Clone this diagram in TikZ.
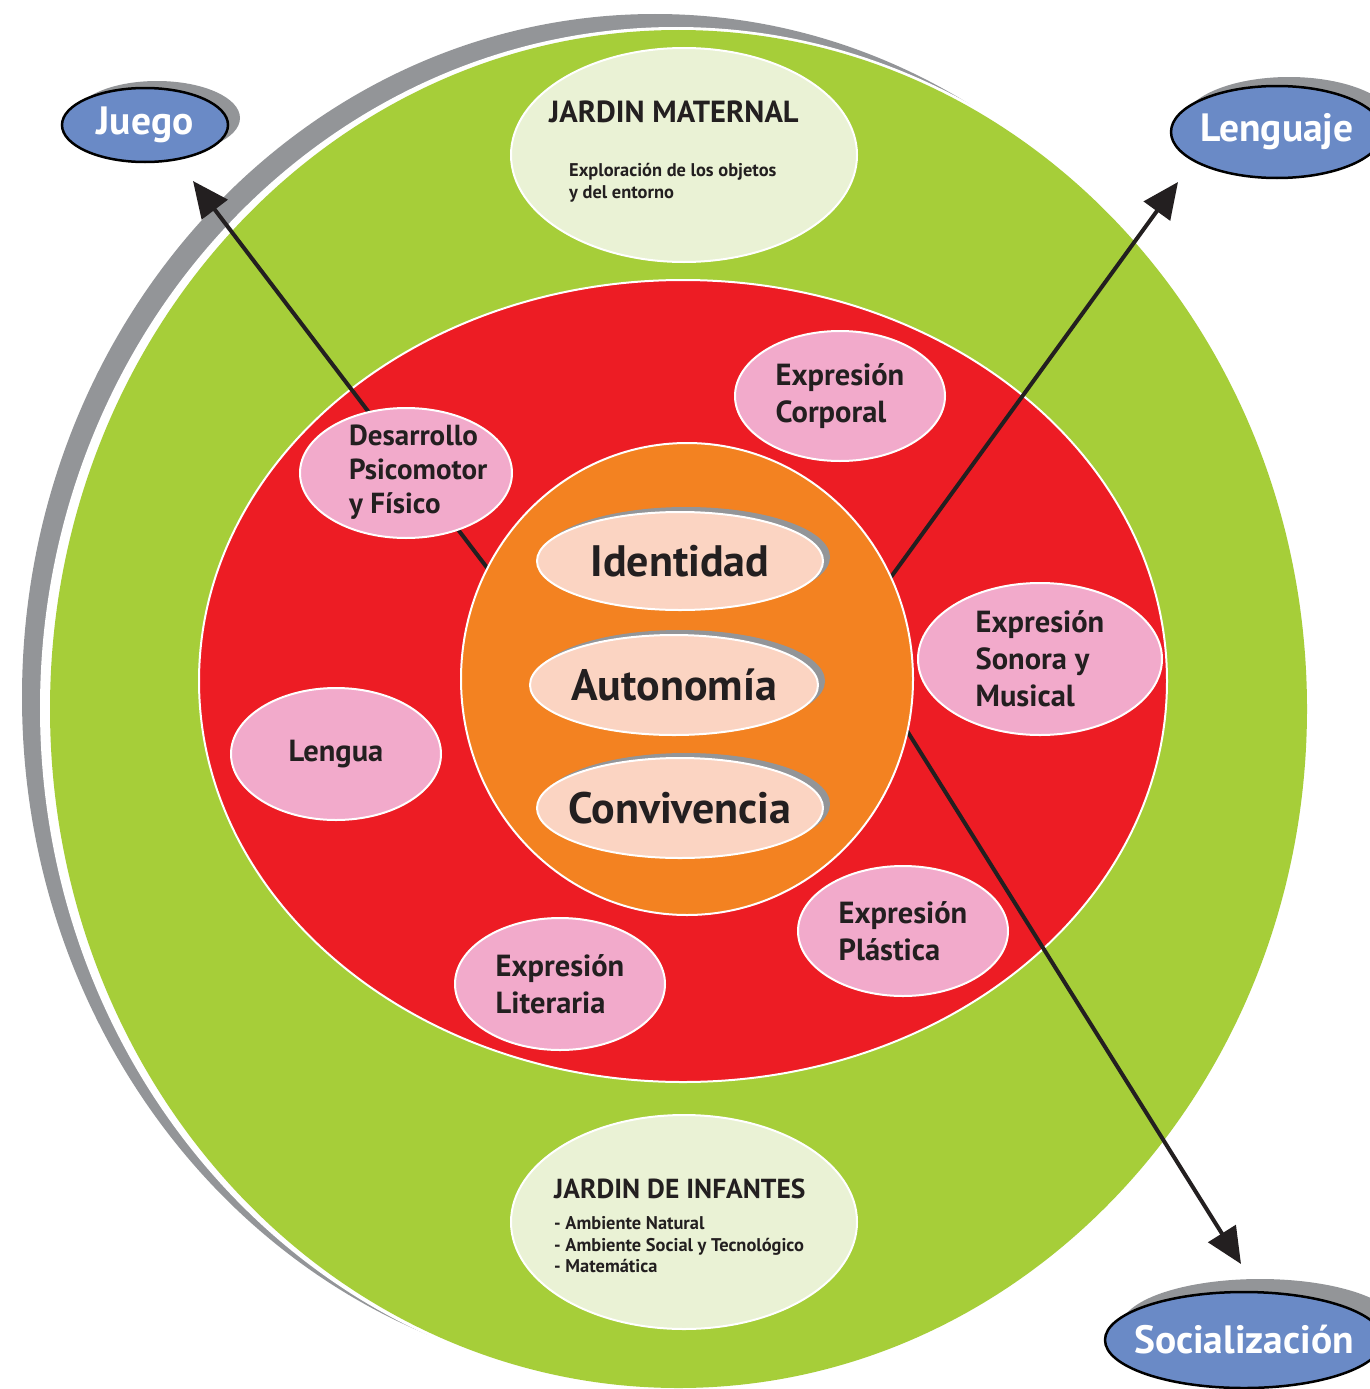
\documentclass[tikz,border=0pt]{standalone}
\usepackage{fontspec}
\setmainfont{PT Sans}
\usetikzlibrary{shapes.geometric,arrows.meta}
\definecolor{cgreen}{HTML}{A6CE39}
\definecolor{cgray}{HTML}{939598}
\definecolor{cred}{HTML}{ED1C24}
\definecolor{corange}{HTML}{F38221}
\definecolor{cpink}{HTML}{F2AACB}
\definecolor{cpeach}{HTML}{FBD4C2}
\definecolor{clight}{HTML}{EAF2D5}
\definecolor{cblue}{HTML}{6A8AC6}
\definecolor{cdark}{HTML}{231F20}
\tikzset{
  oval/.style={ellipse, inner sep=0pt, draw=white, line width=2pt},
  pinkoval/.style={oval, inner sep=-10pt, fill=cpink, text=cdark, align=left,
    font=\bfseries\fontsize{30.5}{37}\selectfont},
  pinktext/.style={text=cdark, align=left, inner sep=0pt,
    font=\bfseries\fontsize{29}{34}\selectfont},
  coreoval/.style={oval, inner xsep=-40pt, fill=cpeach, text=cdark,
    font=\bfseries\fontsize{44}{50}\selectfont},
  shadowoval/.style={ellipse, inner sep=0pt, fill=cgray},
  blueoval/.style={ellipse, inner xsep=-40pt, inner ysep=0pt, fill=cblue, draw=black, line width=2.5pt,
    text=white, font=\bfseries\fontsize{39.5}{44}\selectfont},
  stage/.style={oval, fill=clight},
  stagetitle/.style={text=cdark, inner sep=0pt, font=\bfseries\fontsize{#1}{30}\selectfont},
  stagetext/.style={text=cdark, inner sep=0pt, align=left, font=\bfseries\fontsize{18.4}{21.5}\selectfont},
  arrowline/.style={line width=4pt, draw=cdark, -{Triangle[length=36pt,width=32pt]}}
}
\begin{document}
\begin{tikzpicture}[x=1pt,y=-1pt]
\useasboundingbox (0,0) rectangle (1370,1389);
\clip (0,0) rectangle (1370,1389);
% outer rings
\fill[cgray] (655,697) ellipse [x radius=633, y radius=683];
\fill[white] (676,708) ellipse [x radius=636, y radius=681];
\node[ellipse, inner sep=0pt, fill=cgreen, minimum width=1257pt, minimum height=1358pt] (outer) at (678.5,709) {};
% stages
\node[stage, minimum width=346pt, minimum height=214pt] (jm) at (684,155) {};
\node[stagetitle=30.5, anchor=west] (jmt) at (549,112) {JARDIN MATERNAL};
\node[stagetext, anchor=west] (jms) at (569,183) {Exploración de los objetos\\y del entorno};
\node[stage, minimum width=346pt, minimum height=214pt] (ji) at (684,1222) {};
\node[stagetitle=27.5, anchor=west] (jit) at (554,1189) {JARDIN DE INFANTES};
\node[stagetext, anchor=west] (jis) at (554,1245) {- Ambiente Natural\\- Ambiente Social y Tecnológico\\- Matemática};
% red area
\node[oval, fill=cred, minimum width=968pt, minimum height=802pt] (area) at (683,681) {};
% arrows
\coordinate (js) at (504,590);
\coordinate (jt) at (193,181);
\coordinate (ls) at (875,599);
\coordinate (lt) at (1178,182);
\coordinate (ss) at (894,710);
\coordinate (st) at (1241,1264);
\draw[arrowline] (js) -- (jt);
\draw[arrowline] (ls) -- (lt);
\draw[arrowline] (ss) -- (st);
% core
\node[oval, fill=corange, minimum width=452pt, minimum height=472pt] (core) at (687,679) {};
\node[shadowoval, minimum width=288pt, minimum height=100pt] (ids) at (686,557) {};
\node[coreoval, minimum width=286pt, minimum height=98pt] (id) at (680,561) {Identidad};
\node[shadowoval, minimum width=290pt, minimum height=102pt] (aus) at (680,681) {};
\node[coreoval, minimum width=288pt, minimum height=100pt] (au) at (674,685) {Autonomía};
\node[shadowoval, minimum width=288pt, minimum height=102pt] (cos) at (686,804) {};
\node[coreoval, minimum width=286pt, minimum height=100pt] (co) at (680,808) {Convivencia};
% areas
\node[pinkoval, minimum width=212pt, minimum height=130pt] (des) at (406,473) {};
\node[pinktext, anchor=west] (dest) at (349,472) {Desarrollo\\Psicomotor\\y Físico};
\node[pinkoval, minimum width=210pt, minimum height=130pt] (cor) at (840,396) {Expresión\\Corporal};
\node[pinkoval, minimum width=244pt, minimum height=152pt] (son) at (1040,659) {Expresión\\Sonora y\\Musical};
\node[pinkoval, minimum width=210pt, minimum height=132pt] (len) at (336,754) {Lengua};
\node[pinkoval, minimum width=210pt, minimum height=130pt] (pla) at (903,931) {Expresión\\Plástica};
\node[pinkoval, minimum width=210pt, minimum height=132pt] (lit) at (560,984) {Expresión\\Literaria};
% outcomes
\node[shadowoval, minimum width=166pt, minimum height=74pt] (jus) at (157,118) {};
\node[blueoval, minimum width=166pt, minimum height=74pt] (ju) at (145,125) {Juego};
\node[shadowoval, minimum width=212pt, minimum height=92pt] (les) at (1289,123) {};
\node[blueoval, minimum width=212pt, minimum height=92pt] (le) at (1277,132) {Lenguaje};
\node[shadowoval, minimum width=278pt, minimum height=96pt] (sos) at (1260,1327) {};
\node[blueoval, minimum width=278pt, minimum height=96pt] (so) at (1244,1340) {Socialización};
\end{tikzpicture}
\end{document}
